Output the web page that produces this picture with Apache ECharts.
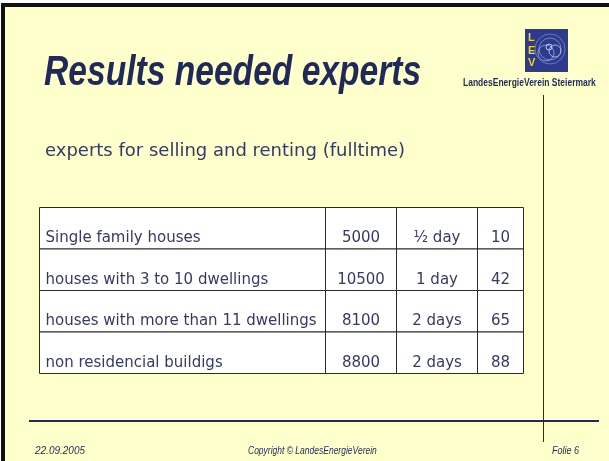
<!DOCTYPE html>
<html>
<head>
<meta charset="utf-8">
<script src="https://cdn.jsdelivr.net/npm/echarts@6/dist/echarts.min.js"></script>
<style>
  html, body { margin: 0; padding: 0; background: #ffffff; }
  #slide { width: 609px; height: 461px; }
</style>
</head>
<body>
<div id="slide"></div>
<script>
// table content
const rowLabels = ['Single family houses', 'houses with 3 to 10 dwellings', 'houses with more than 11 dwellings', 'non residencial buildigs'];
const experts = [5000, 10500, 8100, 8800];
const duration = ['½ day', '1 day', '2 days', '2 days'];
const needed = [10, 42, 65, 88];

// column edges of the table (layout only)
const colEdges = [0, 286, 357, 438, 484];

const navy = '#1f2a5a';
const textCol = '#343a66';

const cells = [];
rowLabels.forEach(function (lab, r) {
  [lab, String(experts[r]), duration[r], String(needed[r])].forEach(function (t, c) {
    cells.push([c, lab, t]);
  });
});

const chart = echarts.init(document.getElementById('slide'));

chart.setOption({
  backgroundColor: '#ffffff',
  animation: false,
  grid: { left: 39.5, top: 207.5, width: 484, height: 166 },
  xAxis: { type: 'value', min: 0, max: 484, show: false },
  yAxis: { type: 'category', data: rowLabels, inverse: true, show: false },
  series: [{
    type: 'custom',
    data: cells,
    renderItem: function (params, api) {
      const c = api.value(0);
      const text = cells[params.dataIndex][2];
      const left = api.coord([colEdges[c], api.value(1)]);
      const right = api.coord([colEdges[c + 1], api.value(1)]);
      const h = api.size([0, 1])[1];
      const top = left[1] - h / 2;
      return {
        type: 'group',
        children: [{
          type: 'rect',
          shape: { x: left[0], y: top, width: right[0] - left[0], height: h },
          style: { fill: '#ffffff', stroke: '#2a2a2a', lineWidth: 1 }
        }, {
          type: 'text',
          x: c === 0 ? left[0] + 6 : (left[0] + right[0]) / 2,
          y: left[1] + 10,
          style: {
            text: text,
            fill: textCol,
            font: '15px "DejaVu Sans"',
            align: c === 0 ? 'left' : 'center',
            verticalAlign: 'middle'
          }
        }]
      };
    }
  }],
  graphic: [
    // slide background and frame
    { type: 'rect', z: -10, shape: { x: 3, y: 5, width: 620, height: 470 },
      style: { fill: '#ffffcc', stroke: '#111111', lineWidth: 4 } },
    // faint guide lines
    { type: 'rect', z: -5, shape: { x: 49.5, y: 105.5, width: 540, height: 310 },
      style: { fill: null, stroke: '#ffffff', lineWidth: 1, opacity: 0.8 } },
    { type: 'line', z: -5, shape: { x1: 319.5, y1: 105, x2: 319.5, y2: 415 },
      style: { stroke: '#ffffff', lineWidth: 1, opacity: 0.8 } },
    // title
    { type: 'text', x: 44, y: 52, scaleX: 0.8,
      style: { text: 'Results needed experts', fill: navy,
        font: 'italic bold 42px "Liberation Sans", sans-serif' } },
    // subtitle
    { type: 'text', left: 45, top: 142,
      style: { text: 'experts for selling and renting (fulltime)', fill: textCol,
        font: '18px "DejaVu Sans"' } },
    // logo
    { type: 'group', left: 525, top: 29, children: [
      { type: 'rect', shape: { x: 0, y: 0, width: 43, height: 43 }, style: { fill: '#2d3a8e' } },
      { type: 'circle', shape: { cx: 25, cy: 20, r: 15 }, style: { fill: null, stroke: '#8fa0d8', lineWidth: 1, opacity: 0.6 } },
      { type: 'circle', shape: { cx: 25, cy: 20, r: 11 }, style: { fill: null, stroke: '#a9b6e2', lineWidth: 1, opacity: 0.6 } },
      { type: 'circle', shape: { cx: 21, cy: 24, r: 8 }, style: { fill: null, stroke: '#c0cbef', lineWidth: 1, opacity: 0.6 } },
      { type: 'circle', shape: { cx: 30, cy: 22, r: 6 }, style: { fill: null, stroke: '#d3dcf5', lineWidth: 1, opacity: 0.7 } },
      { type: 'circle', shape: { cx: 24, cy: 18, r: 3 }, style: { fill: null, stroke: '#e6ecff', lineWidth: 1, opacity: 0.8 } },
      { type: 'text', x: 3, y: 3, style: { text: 'L\nE\nV', fill: '#f2d21a', font: 'bold 11px "Liberation Sans"', lineHeight: 12.5 } }
    ] },
    { type: 'text', x: 463, y: 78, scaleX: 0.85,
      style: { text: 'LandesEnergieVerein Steiermark', fill: navy,
        font: 'bold 10px "Liberation Sans"' } },
    // decorative lines
    { type: 'line', shape: { x1: 543.5, y1: 95, x2: 543.5, y2: 442 },
      style: { stroke: navy, lineWidth: 1 } },
    { type: 'line', shape: { x1: 29, y1: 421, x2: 599, y2: 421 },
      style: { stroke: navy, lineWidth: 2 } },
    // footer
    { type: 'text', x: 35, y: 446,
      style: { text: '22.09.2005', fill: navy, font: 'italic 10px "Liberation Sans"' } },
    { type: 'text', x: 248, y: 446, scaleX: 0.85,
      style: { text: 'Copyright © LandesEnergieVerein', fill: navy,
        font: 'italic 10px "Liberation Sans"' } },
    { type: 'text', x: 552, y: 446, scaleX: 0.9,
      style: { text: 'Folie 6', fill: navy, font: 'italic 10px "Liberation Sans"' } }
  ]
});
</script>
</body>
</html>
